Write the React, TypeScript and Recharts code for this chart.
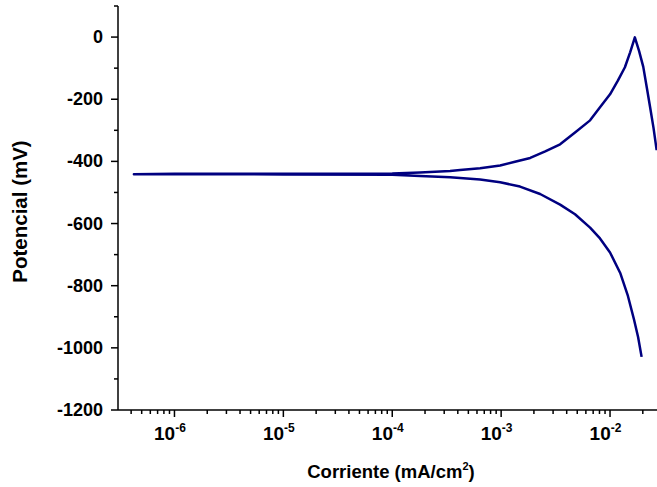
import React from 'react';
import { LineChart, Line, XAxis, YAxis } from 'recharts';

// Scan order: cathodic branch (high current -> Ecorr), then anodic branch up to the peak and beyond
const currentDensity = [
  1.95e-2, 1.81e-2, 1.66e-2, 1.46e-2, 1.24e-2, 1.0e-2, 8.09e-3, 6.56e-3, 4.77e-3, 3.48e-3, 2.28e-3, 1.49e-3,
  9.79e-4, 6.41e-4, 3.4e-4, 1.8e-4, 1.0e-4, 1.0e-5, 1.0e-6, 4.24e-7,
  1.0e-6, 1.0e-5, 1.0e-4, 1.8e-4, 3.4e-4, 4.2e-4, 6.41e-4, 9.79e-4, 1.34e-3, 1.85e-3, 2.54e-3, 3.48e-3, 4.77e-3,
  6.56e-3, 8.09e-3, 1.0e-2, 1.18e-2, 1.37e-2, 1.53e-2, 1.69e-2,
  1.85e-2, 2.02e-2, 2.18e-2, 2.33e-2, 2.51e-2, 2.68e-2,
];
const potential = [
  -1029, -965, -909, -833, -759, -693, -648, -613, -570, -539, -505, -481,
  -467, -458, -451, -447, -443, -442, -441, -441,
  -440, -440, -439, -436, -431, -428, -422, -413, -401, -389, -368, -345, -307,
  -268, -226, -184, -140, -97, -49, -1,
  -45, -96, -164, -224, -293, -364,
];

const xTickValues = [
  4e-7, 5e-7, 6e-7, 7e-7, 8e-7, 9e-7,
  1e-6, 2e-6, 3e-6, 4e-6, 5e-6, 6e-6, 7e-6, 8e-6, 9e-6,
  1e-5, 2e-5, 3e-5, 4e-5, 5e-5, 6e-5, 7e-5, 8e-5, 9e-5,
  1e-4, 2e-4, 3e-4, 4e-4, 5e-4, 6e-4, 7e-4, 8e-4, 9e-4,
  1e-3, 2e-3, 3e-3, 4e-3, 5e-3, 6e-3, 7e-3, 8e-3, 9e-3,
  1e-2, 2e-2,
];
const yTickValues = [-1200, -1100, -1000, -900, -800, -700, -600, -500, -400, -300, -200, -100, 0, 100];

const xDomain = [3.03e-7, 2.7e-2];
const yDomain = [-1200, 100];

const data = currentDensity.map((c, i) => ({ current: c, potential: potential[i] }));

const FONT = '"Liberation Sans", Arial, Helvetica, sans-serif';

function XTick(props: any) {
  const { x, y, payload } = props;
  const v = payload.value as number;
  const lg = Math.log10(v);
  const major = Math.abs(lg - Math.round(lg)) < 1e-6;
  return (
    <g>
      <line x1={x} x2={x} y1={y} y2={y + (major ? 7 : 4)} stroke="#000" strokeWidth={1.5} />
      {major && (
        <text x={x - 4.5} y={y + 30} textAnchor="middle" fontFamily={FONT} fontWeight="bold" fontSize={19} fill="#000">
          10<tspan fontSize={12} dy={-8}>{String(Math.round(lg))}</tspan>
        </text>
      )}
    </g>
  );
}

function YTick(props: any) {
  const { x, y, payload } = props;
  const v = payload.value as number;
  const major = Math.abs(v % 200) === 0;
  return (
    <g>
      <line x1={x} x2={x - (major ? 7 : 4)} y1={y} y2={y} stroke="#000" strokeWidth={1.5} />
      {major && (
        <text x={x - 15} y={y + 6} textAnchor="end" fontFamily={FONT} fontWeight="bold" fontSize={18} fill="#000">
          {String(v)}
        </text>
      )}
    </g>
  );
}

export default function App() {
  return (
    <div style={{ position: 'absolute', left: 0, top: 0, width: 657, height: 487, background: '#fff', overflow: 'hidden' }}>
      <LineChart width={657} height={487} data={data} margin={{ top: 6, right: 0, bottom: 0, left: 0 }}>
        <XAxis
          dataKey="current"
          type="number"
          scale="log"
          domain={xDomain}
          allowDataOverflow
          ticks={xTickValues}
          interval={0}
          tick={<XTick />}
          tickLine={false}
          tickSize={0}
          tickMargin={0}
          height={77}
          axisLine={{ stroke: '#000', strokeWidth: 1.5 }}
        />
        <YAxis
          dataKey="potential"
          type="number"
          domain={yDomain}
          allowDataOverflow
          ticks={yTickValues}
          interval={0}
          tick={<YTick />}
          tickLine={false}
          tickSize={0}
          tickMargin={0}
          width={118}
          axisLine={{ stroke: '#000', strokeWidth: 1.5 }}
        />
        <Line
          type="linear"
          dataKey="potential"
          stroke="#000080"
          strokeWidth={2.5}
          strokeLinejoin="round"
          dot={false}
          isAnimationActive={false}
        />
      </LineChart>
      <svg width={657} height={487} style={{ position: 'absolute', left: 0, top: 0, pointerEvents: 'none' }}>
        <text x={391} y={478} textAnchor="middle" fontFamily={FONT} fontWeight="bold" fontSize={18.5} fill="#000">
          Corriente (mA/cm<tspan fontSize={11} dy={-8}>2</tspan><tspan dy={8}>)</tspan>
        </text>
        <text
          x={27}
          y={211.5}
          transform="rotate(-90, 27, 211.5)"
          textAnchor="middle"
          fontFamily={FONT}
          fontWeight="bold"
          fontSize={20.5}
          fill="#000"
        >
          Potencial (mV)
        </text>
      </svg>
    </div>
  );
}
